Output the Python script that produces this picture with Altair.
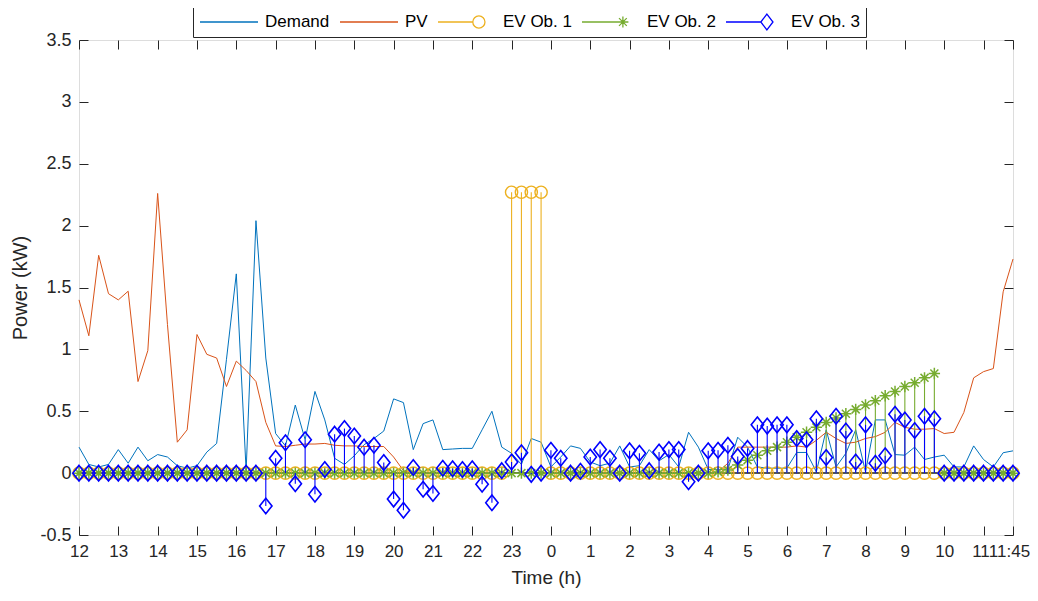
import altair as alt
import pandas as pd

# ---------------- data ----------------
TIME_H = [i * 0.25 for i in range(96)]  # hours after 12:00, 15-min steps

DEMAND = [0.21, 0.07, 0.05, 0.07, 0.19, 0.08, 0.21, 0.10, 0.15, 0.13,
          0.06, 0.04, 0.06, 0.17, 0.24, 0.92, 1.61, 0.02, 2.04, 0.93,
          0.32, 0.22, 0.55, 0.27, 0.66, 0.43, 0.12, 0.07, 0.14, 0.23,
          0.28, 0.34, 0.60, 0.57, 0.19, 0.40, 0.43, 0.19, 0.195, 0.20,
          0.20, 0.35, 0.50, 0.21, 0.16, 0.07, 0.28, 0.25, 0.05, 0.13,
          0.22, 0.20, 0.09, 0.06, 0.08, 0.22, 0.05, 0.06, 0.19, 0.10,
          0.15, 0.05, 0.33, 0.21, 0.03, 0.03, 0.03, 0.29, 0.21, 0.05,
          0.04, 0.04, 0.04, 0.167, 0.167, 0.01, 0.35, 0.05, 0.16, 0.35,
          0.01, 0.43, 0.43, 0.15, 0.145, 0.21, 0.11, 0.13, 0.145, 0.05,
          0.05, 0.22, 0.11, 0.05, 0.165, 0.18]

PV = [1.40, 1.11, 1.76, 1.45, 1.40, 1.47, 0.74, 0.99, 2.26, 1.20,
      0.25, 0.35, 1.12, 0.96, 0.93, 0.70, 0.905, 0.83, 0.74, 0.41,
      0.22, 0.215, 0.225, 0.235, 0.235, 0.24, 0.225, 0.22, 0.22, 0.215,
      0.215, 0.215, 0.13, 0.02, 0.0, 0.0, 0.0, 0.0, 0.0, 0.0,
      0.0, 0.0, 0.0, 0.0, 0.0, 0.0, 0.0, 0.0, 0.0, 0.0,
      0.0, 0.0, 0.0, 0.0, 0.0, 0.0, 0.0, 0.0, 0.0, 0.0,
      0.0, 0.0, 0.0, 0.0, 0.0, 0.01, 0.08, 0.21, 0.21, 0.21,
      0.21, 0.21, 0.21, 0.22, 0.21, 0.265, 0.33, 0.28, 0.24, 0.25,
      0.28, 0.295, 0.33, 0.41, 0.37, 0.355, 0.355, 0.36, 0.32, 0.33,
      0.49, 0.77, 0.82, 0.845, 1.465, 1.73]

EV1 = [0.0] * 44 + [2.27, 2.27, 2.27, 2.27] + [0.0] * 48

EV2 = [0.0] * 65 + [0.01, 0.025, 0.065, 0.105, 0.145, 0.18, 0.21, 0.25, 0.29,
                    0.33, 0.37, 0.41, 0.445, 0.48, 0.515, 0.55, 0.585,
                    0.625, 0.66, 0.70, 0.73, 0.77, 0.805] + [0.0] * 8

EV3 = [0.0] * 19 + [-0.265, 0.12, 0.245, -0.085, 0.27, -0.17, 0.03, 0.315,
                    0.36, 0.30, 0.21, 0.225, 0.085, -0.21, -0.30, 0.045,
                    -0.13, -0.165, 0.04, 0.035, 0.03, 0.035, -0.09, -0.24,
                    0.02, 0.09, 0.165, -0.01, 0.0, 0.185, 0.12, 0.0,
                    0.015, 0.13, 0.19, 0.12, 0.0, 0.18, 0.16, 0.02,
                    0.17, 0.19, 0.19, -0.07, 0.0, 0.18, 0.185, 0.225,
                    0.135, 0.20, 0.39, 0.38, 0.39, 0.39, 0.28, 0.27,
                    0.44, 0.127, 0.46, 0.34, 0.09, 0.39, 0.08, 0.14,
                    0.475, 0.43, 0.345, 0.46, 0.44] + [0.0] * 8

SERIES = ["Demand", "PV", "EV Ob. 1", "EV Ob. 2", "EV Ob. 3"]
COLORS = ["#0072BD", "#D95319", "#EDB120", "#77AC30", "#0000FF"]

X_TICKS = list(range(24)) + [23.75]
X_LABELS = ["12", "13", "14", "15", "16", "17", "18", "19", "20", "21", "22", "23",
            "0", "1", "2", "3", "4", "5", "6", "7", "8", "9", "10", "11", "11:45"]
Y_TICKS = [-0.5, 0, 0.5, 1, 1.5, 2, 2.5, 3, 3.5]
Y_LABELS = ["-0.5", "0", "0.5", "1", "1.5", "2", "2.5", "3", "3.5"]

# ---------------- styling ----------------
FONT = "Liberation Sans"
AX = "#262626"
W, H = 934, 495

df = pd.DataFrame({"t": TIME_H, "demand": DEMAND, "pv": PV,
                   "ev1": EV1, "ev2": EV2, "ev3": EV3})

xs = alt.Scale(domain=[0, 23.75], nice=False, zero=False)
ys = alt.Scale(domain=[-0.5, 3.5], nice=False, zero=False)


def js_list(vals, quote=False):
    if quote:
        return "[" + ",".join("'" + v + "'" for v in vals) + "]"
    return "[" + ",".join(str(v) for v in vals) + "]"


x_expr = f"{js_list(X_LABELS, True)}[indexof({js_list(X_TICKS)}, datum.value)]"
y_expr = f"{js_list(Y_LABELS, True)}[indexof({js_list(Y_TICKS)}, datum.value)]"

common_axis = dict(offset=-9, tickSize=9, domain=False, grid=False,
                   tickColor=AX, tickWidth=1, labelColor=AX, titleColor=AX,
                   labelFont=FONT, titleFont=FONT, labelFlush=False,
                   labelOverlap=False, labelBound=False)

ax_bottom = alt.Axis(orient="bottom", values=X_TICKS, labelExpr=x_expr,
                     labelFontSize=17, labelPadding=8, title="Time (h)",
                     labelOffset={"condition": [
                         {"test": f"datum.value == {X_TICKS[-1]}", "value": -4},
                         {"test": f"datum.value == {X_TICKS[-2]}", "value": -3},
                     ], "value": 0},
                     titleFontSize=19, titleFontWeight="normal", titlePadding=9,
                     **common_axis)
ax_top = alt.Axis(orient="top", values=X_TICKS, labels=False, title=None,
                  **common_axis)
ax_left = alt.Axis(orient="left", values=Y_TICKS, labelExpr=y_expr,
                   labelFontSize=18, labelPadding=8, title="Power (kW)",
                   titleFontSize=20, titleFontWeight="normal", titlePadding=9,
                   **common_axis)
ax_right = alt.Axis(orient="right", values=Y_TICKS, labels=False, title=None,
                    **common_axis)

CIRCLE = "circle"
ASTER = "M-1,0L1,0M0,-1L0,1M-0.7,-0.7L0.7,0.7M-0.7,0.7L0.7,-0.7"
DIAMOND = "M0,-1L0.8,0L0,1L-0.8,0Z"

# legend symbols: horizontal stem with marker near the right end
LEG_SHAPES = [
    "M-1,0L1,0",
    "M-1,0L1,0",
    "M-1,0L0.2,0M0.2,0A0.21,0.21,0,1,1,0.62,0A0.21,0.21,0,1,1,0.2,0",
    "M-1,0L0.41,0M0.22,0L0.6,0M0.41,-0.19L0.41,0.19"
    "M0.276,-0.134L0.544,0.134M0.276,0.134L0.544,-0.134",
    "M-1,0L0.2,0M0.41,-0.27L0.62,0L0.41,0.27L0.2,0Z",
]

base = alt.Chart(df)

demand = base.mark_line(color=COLORS[0], strokeWidth=1).encode(
    x=alt.X("t:Q", scale=xs, axis=ax_bottom),
    y=alt.Y("demand:Q", scale=ys, axis=ax_left),
)
pv = base.mark_line(color=COLORS[1], strokeWidth=1).encode(
    x=alt.X("t:Q", scale=xs, axis=ax_top),
    y=alt.Y("pv:Q", scale=ys, axis=ax_right),
)
baseline = base.mark_rule(color="#555555", strokeWidth=0.8).encode(
    y=alt.YDatum(0, scale=ys, axis=None),
)


def stem(col, color, shape, size, sw):
    r = base.mark_rule(color=color, strokeWidth=1.1).encode(
        x=alt.X("t:Q", scale=xs, axis=None),
        y=alt.Y(f"{col}:Q", scale=ys, axis=None),
        y2=alt.datum(0),
    )
    p = base.mark_point(shape=shape, size=size, filled=False, color=color,
                        strokeWidth=sw, opacity=1).encode(
        x=alt.X("t:Q", scale=xs, axis=None),
        y=alt.Y(f"{col}:Q", scale=ys, axis=None),
    )
    return [r, p]


legend = alt.Legend(
    title=None, orient="none", legendX=114, legendY=-33, direction="horizontal",
    symbolSize=3364, clipHeight=18, labelFontSize=17, labelFont=FONT,
    labelColor="black", labelOffset=6, columnPadding=9, padding=6,
    strokeColor=AX, fillColor="white", symbolStrokeWidth=1.3,
)
leg_df = pd.DataFrame({"series": SERIES, "t": [0.0] * 5, "v": [0.0] * 5})
leg_driver = alt.Chart(leg_df).mark_point(filled=False, opacity=0, strokeWidth=1.3).encode(
    x=alt.X("t:Q", scale=xs, axis=None),
    y=alt.Y("v:Q", scale=ys, axis=None),
    color=alt.Color("series:N", scale=alt.Scale(domain=SERIES, range=COLORS),
                    legend=legend),
    shape=alt.Shape("series:N", scale=alt.Scale(domain=SERIES, range=LEG_SHAPES),
                    legend=legend),
)

layers = [demand, pv, baseline]
layers += stem("ev1", COLORS[2], CIRCLE, 150, 1.4)
layers += stem("ev2", COLORS[3], ASTER, 130, 1.5)
layers += stem("ev3", COLORS[4], DIAMOND, 240, 1.6)
layers += [leg_driver]

chart = alt.layer(*layers).resolve_axis(x="independent", y="independent").properties(
    width=W, height=H,
    autosize=alt.AutoSizeParams(type="none"),
    padding={"left": 71, "top": 32, "right": 17, "bottom": 54},
).configure_view(stroke=AX, strokeWidth=1).configure(background="white")

chart.save("out.html", embed_options={"renderer": "svg", "actions": False})
